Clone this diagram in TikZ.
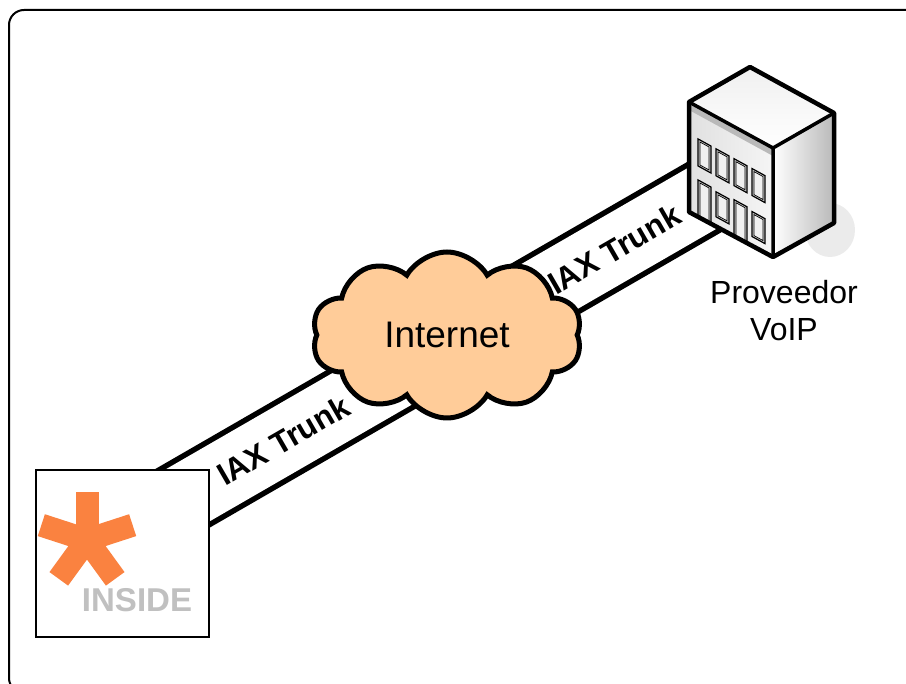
\documentclass[tikz,border=0pt]{standalone}
\usepackage{fontspec}
\setmainfont{Liberation Sans}
\usepackage{xcolor}
\usetikzlibrary{shapes.symbols}
\definecolor{cloudfill}{RGB}{255,204,153}
\definecolor{starorange}{RGB}{250,130,64}
\definecolor{insidegray}{RGB}{192,192,192}

\begin{document}
\begin{tikzpicture}[x=1pt, y=-1pt,
    trunk/.style={line width=5.5pt, double=white, double distance=67pt},
    lbl/.style={font=\fontsize{31.5}{36}\selectfont\bfseries, sloped},
    cloudnode/.style={cloud, cloud puffs=10, cloud puff arc=120, aspect=1.65,
                draw, line width=5pt, fill=cloudfill, minimum width=270pt,
                minimum height=166pt, font=\fontsize{37}{44}\selectfont},
    pbxbox/.style={draw, line width=2pt, fill=white, minimum width=173pt,
                minimum height=167pt, inner sep=0pt},
    wall/.style={line width=4.5pt, line join=round},
    win/.style={draw, line width=1.2pt, fill=gray!40},
    winin/.style={draw, line width=0.7pt, fill=gray!12}
]
\useasboundingbox (0,0) rectangle (906,684);
\clip (0,0) rectangle (906,684);
\draw[line width=2pt, rounded corners=15pt] (9,10) rectangle (925,693);

% trunk band, ends hidden under the box and the building
\coordinate (tA) at (120,534.4);
\coordinate (tB) at (740,176.5);
\draw[trunk] (tA) -- node[lbl, pos=0.263] (lblA) {IAX Trunk}
                     node[lbl, pos=0.797] (lblB) {IAX Trunk} (tB);

\node[cloudnode] (inet) at (447,335) {Internet};

% asterisk box
\node[pbxbox] (pbx) at (122.5,553.5) {};
\coordinate (ast) at (87,540);
\foreach \a in {90,18,-54,-126,162}
    \draw[starorange, line width=23pt] (ast) -- ++(\a:48pt);
\node[font=\fontsize{33}{40}\selectfont\bfseries, text=insidegray] (ins) at (137,600) {INSIDE};

% building
\fill[gray!16] (830,230) ellipse [x radius=25, y radius=27];
\shade[left color=white, right color=gray!55] (773,148) -- (834,113) -- (834,223) -- (773,257) -- cycle;
\shade[top color=gray!12, bottom color=white] (689,102) -- (750,67) -- (834,113) -- (773,148) -- cycle;
\shade[left color=gray!24, right color=gray!8] (689,102) -- (773,148) -- (773,257) -- (689,212) -- cycle;
\fill[gray!55] (689,102) -- (773,148) -- (773,156) -- (689,110) -- cycle;
\begin{scope}[shift={(689,102)}, yslant=-0.548]
\foreach \u in {9,27,45,63} {
    \draw[win] (\u,32) rectangle +(13,27);
    \draw[winin] (\u+2,34) rectangle +(9,23);
}
\foreach \u in {9,45} {
    \draw[win] (\u,73) rectangle +(13,36);
    \draw[winin] (\u+2,75) rectangle +(9,34);
}
\foreach \u in {27,63} {
    \draw[win] (\u,75) rectangle +(13,25);
    \draw[winin] (\u+2,77) rectangle +(9,21);
}
\end{scope}
\draw[wall] (689,102) -- (750,67) -- (834,113) -- (834,223) -- (773,257) -- (689,212) -- cycle;
\draw[line width=3.5pt, line join=round] (689,102) -- (773,148) -- (834,113) (773,148) -- (773,257);
\node[font=\fontsize{32}{37}\selectfont, align=center] (voip) at (784,311) {Proveedor\\VoIP};
\end{tikzpicture}
\end{document}
